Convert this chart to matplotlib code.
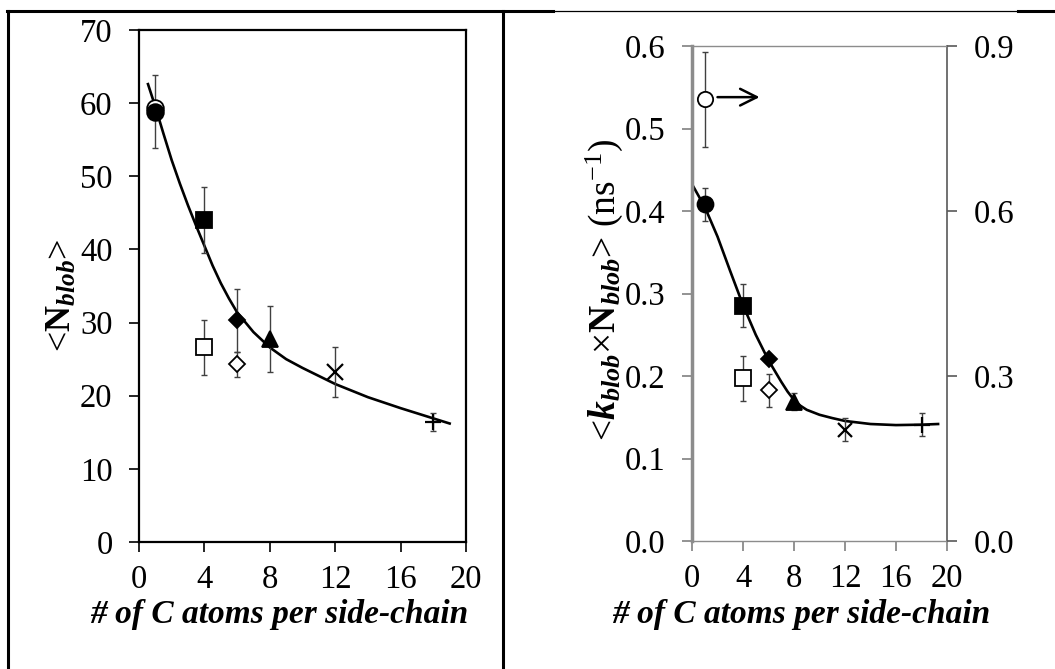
import matplotlib
matplotlib.use("Agg")
import matplotlib.pyplot as plt
from matplotlib.lines import Line2D
from matplotlib.ticker import FormatStrFormatter

# ---------------- data ----------------
x_ticks = [0, 4, 8, 12, 16, 20]

# left panel: <N_blob>
L_circ_open = ([1], [59.3])
L_circ = ([1], [58.8], [5.0])
L_sq = ([4], [44.0], [4.5])
L_sq_open = ([4], [26.6], [3.7])
L_dia = ([6], [30.3], [4.3])
L_dia_open = ([6], [24.3], [1.7])
L_tri = ([8], [27.8], [4.5])
L_x = ([12], [23.2], [3.4])
L_plus = ([18], [16.4], [1.2])
L_curve_x = [0.55, 1, 1.5, 2, 2.5, 3, 3.5, 4, 4.5, 5, 5.5, 6, 7, 8, 9, 10, 12, 14, 16, 18, 19]
L_curve_y = [62.6, 59.5, 55.8, 52.2, 49.0, 46.0, 43.2, 40.5, 37.8, 35.4, 33.3, 31.4,
             28.7, 26.6, 25.0, 23.8, 21.6, 19.8, 18.3, 16.9, 16.2]
L_yticks = [0, 10, 20, 30, 40, 50, 60, 70]

# right panel: <k_blob x N_blob>
R_circ = ([1], [0.408], [0.02])
R_circ_open_right = ([1], [0.803], [0.087])   # read on right axis
R_sq = ([4], [0.285], [0.026])
R_sq_open = ([4], [0.197], [0.027])
R_dia = ([6], [0.221], [0.005])
R_dia_open = ([6], [0.183], [0.02])
R_tri = ([8], [0.169], [0.01])
R_x = ([12], [0.135], [0.014])
R_plus = ([18], [0.141], [0.014])
R_curve_x = [0, 1, 2, 3, 4, 5, 6, 7, 7.5, 8, 8.5, 9, 10, 11, 12, 14, 16, 18, 19.3]
R_curve_y = [0.4325, 0.405, 0.369, 0.327, 0.286, 0.25, 0.219, 0.193, 0.181, 0.171,
             0.164, 0.159, 0.153, 0.149, 0.1455, 0.1418, 0.1405, 0.141, 0.1418]
R_yticks = [0.0, 0.1, 0.2, 0.3, 0.4, 0.5, 0.6]
R2_yticks = [0.0, 0.3, 0.6, 0.9]
arrow_y = 0.538
arrow_x = (2.0, 5.3)

# ---------------- style ----------------
plt.rcParams['font.family'] = ['Liberation Serif', 'DejaVu Serif']
plt.rcParams['mathtext.fontset'] = 'custom'
plt.rcParams['mathtext.rm'] = 'Liberation Serif'
plt.rcParams['mathtext.it'] = 'Liberation Serif:italic'
plt.rcParams['mathtext.bf'] = 'Liberation Serif:bold'
plt.rcParams['mathtext.bfit'] = 'Liberation Serif:italic:bold'

W, H = 1055, 669
fig = plt.figure(figsize=(W / 100, H / 100), dpi=100)


def fx(px):
    return px / W


def fy(py):
    return 1 - py / H


TICK_FS = 23.5
ERR_C = '#404040'


def ebar(ax, d, marker, ms, mfc='black', mec='black', mew=1.3):
    if len(d) == 3:
        ax.errorbar(d[0], d[1], yerr=d[2], fmt='none', ecolor=ERR_C, elinewidth=1.0,
                    capsize=2.5, capthick=1.0, zorder=3)
    ax.plot(d[0], d[1], linestyle='none', marker=marker, ms=ms, mfc=mfc, mec=mec,
            mew=mew, zorder=4)


# ---------------- left panel ----------------
axL = fig.add_axes([fx(139), fy(542), fx(466) - fx(139), fy(30) - fy(542)])
axL.set_xlim(0, 20)
axL.set_ylim(0, 70)
axL.set_xticks(x_ticks)
axL.set_yticks(L_yticks)
axL.tick_params(direction='out', length=7, width=1.2, labelsize=TICK_FS, pad=12,
                colors='black')
axL.tick_params(axis='x', pad=9)
for s in axL.spines.values():
    s.set_linewidth(1.6)
    s.set_color('black')

axL.plot(L_curve_x, L_curve_y, color='black', lw=1.9, zorder=2)
ebar(axL, L_circ_open, 'o', 12, mfc='white')
ebar(axL, L_circ, 'o', 12)
ebar(axL, L_sq, 's', 11.5)
ebar(axL, L_sq_open, 's', 11, mfc='white')
ebar(axL, L_dia, 'D', 8.5)
ebar(axL, L_dia_open, 'D', 8, mfc='white')
ebar(axL, L_tri, '^', 12)
ebar(axL, L_x, 'x', 11.5, mew=1.6)
ebar(axL, L_plus, '+', 11.5, mew=1.6)

# ---------------- right panel ----------------
axR = fig.add_axes([fx(692), fy(541), fx(947) - fx(692), fy(46) - fy(541)])
axR.set_xlim(0, 20)
axR.set_ylim(0, 0.6)
axR.set_xticks(x_ticks)
axR.set_yticks(R_yticks)
axR.yaxis.set_major_formatter(FormatStrFormatter('%.1f'))
axR.tick_params(direction='out', length=7, width=1.2, labelsize=TICK_FS, pad=12,
                colors='#808080', labelcolor='black')
axR.tick_params(axis='x', pad=9)
axR.spines['left'].set_linewidth(2.5)
axR.spines['left'].set_color('#8c8c8c')
axR.spines['top'].set_linewidth(1.0)
axR.spines['top'].set_color('#8c8c8c')
axR.spines['bottom'].set_linewidth(1.0)
axR.spines['bottom'].set_color('#8c8c8c')
axR.spines['right'].set_linewidth(1.2)
axR.spines['right'].set_color('#595959')

axR2 = axR.twinx()
axR2.set_ylim(0, 0.9)
axR2.set_yticks(R2_yticks)
axR2.yaxis.set_major_formatter(FormatStrFormatter('%.1f'))
axR2.tick_params(direction='out', length=7, width=1.2, labelsize=TICK_FS, pad=12,
                 colors='#595959', labelcolor='black')
for s in axR2.spines.values():
    s.set_visible(False)

axR.plot(R_curve_x, R_curve_y, color='black', lw=1.9, zorder=2)
ebar(axR, R_circ, 'o', 11.5)
ebar(axR, R_sq, 's', 11.5)
ebar(axR, R_sq_open, 's', 11, mfc='white')
ebar(axR, R_dia, 'D', 8.5)
ebar(axR, R_dia_open, 'D', 8, mfc='white')
ebar(axR, R_tri, '^', 11.5)
ebar(axR, R_x, 'x', 10.5, mew=1.6)
ebar(axR, R_plus, '+', 11.5, mew=1.6)
ebar(axR2, R_circ_open_right, 'o', 11, mfc='white')
axR.annotate('', xy=(arrow_x[1], arrow_y), xytext=(arrow_x[0], arrow_y),
             arrowprops=dict(arrowstyle='->', lw=1.8, color='black', mutation_scale=30,
                             shrinkA=0, shrinkB=0))

# ---------------- labels ----------------
xl = '# of C atoms per side-chain'
fig.text(fx(279), fy(614), xl, fontsize=24, fontweight='bold', fontstyle='italic',
         ha='center', va='center')
fig.text(fx(801), fy(614), xl, fontsize=24, fontweight='bold', fontstyle='italic',
         ha='center', va='center')
fig.text(fx(62), fy(295), r'<$\mathbf{N}_{\mathbfit{blob}}$>', fontsize=26,
         rotation=90, ha='center', va='center')
fig.text(fx(604), fy(290),
         r'<$\mathbfit{k}_{\mathbfit{blob}}$×$\mathbf{N}_{\mathbfit{blob}}$> (ns$^{-1}$)',
         fontsize=27, rotation=90, ha='center', va='center')

# ---------------- table borders ----------------
thick = 2.2
fig.add_artist(Line2D([fx(8), fx(8)], [fy(11), 0], color='black', lw=thick))
fig.add_artist(Line2D([fx(503), fx(503)], [fy(11), 0], color='black', lw=thick))
fig.add_artist(Line2D([fx(7), fx(553)], [fy(11), fy(11)], color='black', lw=thick))
fig.add_artist(Line2D([fx(553), fx(1018)], [fy(10.5), fy(10.5)], color='black', lw=0.9))
fig.add_artist(Line2D([fx(1018), 1], [fy(11), fy(11)], color='black', lw=thick))

fig.savefig('out.png', dpi=100)
